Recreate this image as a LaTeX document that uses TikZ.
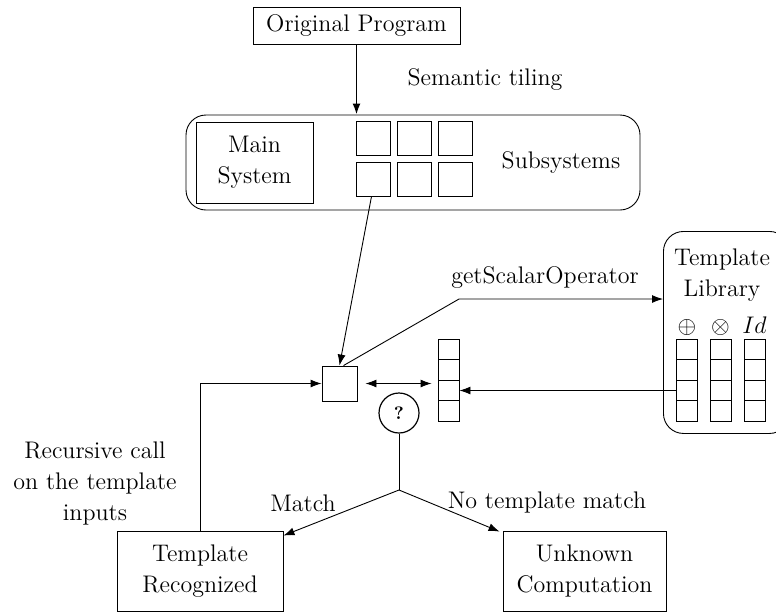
\documentclass[tikz,border=0pt]{standalone}
\usetikzlibrary{arrows.meta,positioning}

\begin{document}
\begin{tikzpicture}[
        x=0.5pt,y=-0.5pt,
        font=\fontsize{12}{15.5}\selectfont,
        mybox/.style={
            draw=black,
            line width=0.45pt,
            align=center,
            inner sep=2pt},
        mycell/.style={
            draw=black,
            line width=0.45pt,
            inner sep=0pt,
            minimum size=17pt},
        mybar/.style={
            draw=black,
            line width=0.45pt,
            inner sep=0pt,
            minimum width=10.5pt,
            minimum height=10.2pt},
        myarrow/.style={-{Latex[length=5.5pt,width=4pt]},line width=0.45pt}
        ]
        \useasboundingbox (0,0) rectangle (776,612);

        \node[mybox,minimum width=103.5pt,minimum height=18.5pt] (orig) at (356.5,25.5) {Original Program};
        \node (tilingtxt) at (485,80) {Semantic tiling};

        \node[mybox,rounded corners=10pt,minimum width=227pt,minimum height=47.5pt] (tiling) at (413,162.5) {};
        \node[mybox,minimum width=58.5pt,minimum height=40.5pt] (main) at (254.5,162.5) {Main\\System};
        \foreach \c in {1,2,3}
            \foreach \r in {1,2}
                \node[mycell] (s\r\c) at ({373.5+41*(\c-1)},{138.5+40.5*(\r-1)}) {};
        \node (subtxt) at (561,162) {Subsystems};

        \node[mybox,rounded corners=10pt,minimum width=63pt,minimum height=101pt,anchor=north west] (lib) at (663,231) {};
        \node[align=center] (libtxt) at (722,275) {Template\\Library};
        \node (plus) at (687,327) {$\oplus$};
        \node (times) at (720.5,327) {$\otimes$};
        \node (ident) at (754.5,325) {\large $Id$};
        \foreach \x/\c in {687/a,720.5/b,754.5/c}
            \foreach \r in {1,2,3,4}
                \node[mybar] (\c\r) at (\x,{349.7+20.4*(\r-1)}) {};

        \node[mycell,minimum size=17.5pt] (op) at (339.5,383.5) {};
        \foreach \r in {1,2,3,4}
            \node[mybar] (v\r) at (448.5,{349.7+20.4*(\r-1)}) {};
        \node[draw,circle,line width=0.6pt,minimum size=20pt,inner sep=0pt] (q) at (399,413) {\small\bfseries ?};

        \node[mybox,minimum width=83pt,minimum height=40pt] (rec) at (200,571) {Template\\Recognized};
        \node[mybox,minimum width=81.5pt,minimum height=40pt] (unk) at (584.5,571) {Unknown\\Computation};
        \node[align=center] (rectxt) at (95,483) {Recursive call\\on the template\\inputs};
        \node (matchtxt) at (303,503) {Match};
        \node (nomatchtxt) at (547,502) {No template match};
        \node (gsotxt) at (545,278) {getScalarOperator};

        \coordinate (bend) at (459,299);
        \coordinate (br) at (399,490);

        \draw[myarrow,line width=0.9pt] (orig) -- (orig.south |- tiling.north);
        \draw[myarrow] ([xshift=-1pt]s21.south) -- (op.north);
        \draw[myarrow] ([xshift=2pt]op.north) -- (bend) -- (bend -| lib.west);
        \draw[myarrow] (a3.west) -- (v3.east);
        \draw[{Latex[length=5.5pt,width=4pt]}-{Latex[length=5.5pt,width=4pt]},line width=0.45pt,shorten <=4pt,shorten >=3pt] (op.east) -- (op.east -| v3.west);
        \draw[line width=0.45pt] (q.south) -- (br);
        \draw[myarrow] (br) -- ([yshift=-2.5pt]rec.north east);
        \draw[myarrow] (br) -- ([xshift=-1.5pt,yshift=-0.5pt]unk.north west);
        \draw[myarrow] (rec.north) |- (op.west);
\end{tikzpicture}
\end{document}
